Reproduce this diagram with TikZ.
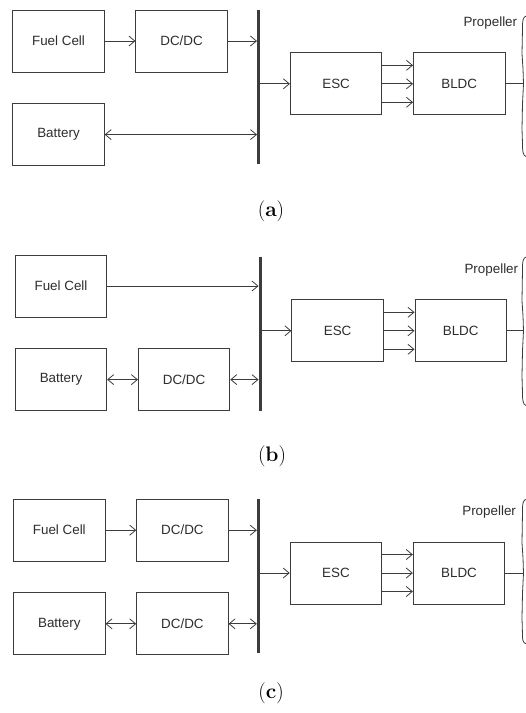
\documentclass[tikz,border=0pt]{standalone}
\usepackage{fontspec}
\setsansfont{Liberation Sans}
\usepackage{xcolor}
\definecolor{linegray}{RGB}{60,60,60}
\definecolor{textgray}{RGB}{45,45,45}
\usetikzlibrary{arrows.meta,positioning,calc}

\begin{document}
\begin{tikzpicture}[x=1pt, y=-1pt,
    blk/.style={rectangle, draw=linegray, line width=0.8pt,
                minimum width=91.5pt, minimum height=62pt, inner sep=0pt,
                font=\fontsize{13.4}{16}\sffamily, text=textgray},
    bus/.style={rectangle, fill=linegray, minimum width=3pt,
                minimum height=154pt, inner sep=0pt},
    arr/.style={-{Straight Barb[length=6pt,width=10pt]}, line width=0.8pt, linegray},
    darr/.style={{Straight Barb[length=6pt,width=10pt]}-{Straight Barb[length=6pt,width=10pt]},
                 line width=0.8pt, linegray},
    wire/.style={line width=0.8pt, linegray},
    lbl/.style={font=\fontsize{13.4}{16}\sffamily, text=textgray, inner sep=0pt},
    subcap/.style={font=\fontsize{21}{25}\selectfont, inner sep=0pt},
    blade/.style={wire, line join=round},
    node distance=30.8pt
  ]
    \useasboundingbox (0,0) rectangle (526,713);
    \coordinate (edge) at (523.5,0);

    % (a) fuel cell with DC/DC, battery direct on bus
    \node[blk] (fcA) at (58.5,41) {Fuel Cell};
    \node[blk, right=of fcA] (dcA) {DC/DC};
    \node[blk, below=of fcA] (batA) {Battery};
    \node[bus, right=31pt of dcA.north east, anchor=north] (busA) {};
    \node[blk, right=29.5pt of busA, yshift=3pt] (escA) {ESC};
    \node[blk, right=of escA] (bldcA) {BLDC};
    \node[lbl, anchor=east] (propA) at ($(bldcA.north east)+(12,-29.5)$) {Propeller};
    \coordinate (hubA) at (bldcA.east -| edge);
    \draw[arr] (fcA) -- (dcA);
    \draw[arr] (dcA) -- (dcA.east -| busA.west);
    \draw[darr] (batA) -- (batA.east -| busA.west);
    \draw[arr] (escA.west -| busA.east) -- (escA);
    \foreach \d in {-18.5,0,18.5}
      \draw[arr] ($(escA.east)+(0,\d)$) -- ($(bldcA.west)+(0,\d)$);
    \draw[wire] (bldcA) -- (hubA);
    \draw[blade, shift={(hubA)}] (3,-68) .. controls (-1,-67) and (-1,-62) .. (-1,-56)
      -- (-1.5,-30) -- (-0.5,-15) -- (0,0) -- (-1,20) -- (-1.5,45) -- (-1,60)
      .. controls (-1,66) and (-1,72) .. (3,73);
    \node[subcap] (capA) at (271,211) {(\textbf{a})};

    % (b) fuel cell direct on bus, battery with DC/DC
    \node[blk] (fcB) at (61,286) {Fuel Cell};
    \node[blk, below=of fcB] (batB) {Battery};
    \node[blk, right=of batB] (dcB) {DC/DC};
    \node[bus, right=30pt of dcB.south east, anchor=south] (busB) {};
    \node[blk, right=29.5pt of busB, yshift=3pt] (escB) {ESC};
    \node[blk, right=of escB] (bldcB) {BLDC};
    \node[lbl, anchor=east] (propB) at ($(bldcB.north east)+(11.5,-29.5)$) {Propeller};
    \coordinate (hubB) at (bldcB.east -| edge);
    \draw[arr] (fcB) -- (fcB.east -| busB.west);
    \draw[darr] (batB) -- (dcB);
    \draw[darr] (dcB) -- (dcB.east -| busB.west);
    \draw[arr] (escB.west -| busB.east) -- (escB);
    \foreach \d in {-18.5,0,18.5}
      \draw[arr] ($(escB.east)+(0,\d)$) -- ($(bldcB.west)+(0,\d)$);
    \draw[wire] (bldcB) -- (hubB);
    \draw[blade, shift={(hubB)}] (3,-74) .. controls (-1,-73) and (-1,-68) .. (-1,-62)
      -- (-1.5,-30) -- (-0.5,-15) -- (0,0) -- (-1,20) -- (-1.5,45) -- (-1,62)
      .. controls (-1,68) and (-1,74) .. (3,75);
    \node[subcap] (capB) at (272,456) {(\textbf{b})};

    % (c) both sources with DC/DC
    \node[blk] (fcC) at (59.3,530.2) {Fuel Cell};
    \node[blk, right=of fcC] (dcC) {DC/DC};
    \node[blk, below=of fcC] (batC) {Battery};
    \node[blk, right=of batC] (dcbC) {DC/DC};
    \node[bus, right=30pt of dcC.north east, anchor=north] (busC) {};
    \node[blk, right=29.5pt of busC, yshift=3pt] (escC) {ESC};
    \node[blk, right=of escC] (bldcC) {BLDC};
    \node[lbl, anchor=east] (propC) at ($(bldcC.north east)+(11,-29.5)$) {Propeller};
    \coordinate (hubC) at (bldcC.east -| edge);
    \draw[arr] (fcC) -- (dcC);
    \draw[arr] (dcC) -- (dcC.east -| busC.west);
    \draw[darr] (batC) -- (dcbC);
    \draw[darr] (dcbC) -- (dcbC.east -| busC.west);
    \draw[arr] (escC.west -| busC.east) -- (escC);
    \foreach \d in {-18.5,0,18.5}
      \draw[arr] ($(escC.east)+(0,\d)$) -- ($(bldcC.west)+(0,\d)$);
    \draw[wire] (bldcC) -- (hubC);
    \draw[blade, shift={(hubC)}] (3,-74) .. controls (-1,-73) and (-1,-68) .. (-1,-62)
      -- (-1.5,-30) -- (-0.5,-15) -- (0,0) -- (-1,20) -- (-1.5,45) -- (-1,62)
      .. controls (-1,66) and (-1,70) .. (3,71);
    \node[subcap] (capC) at (271,693) {(\textbf{c})};
\end{tikzpicture}
\end{document}
